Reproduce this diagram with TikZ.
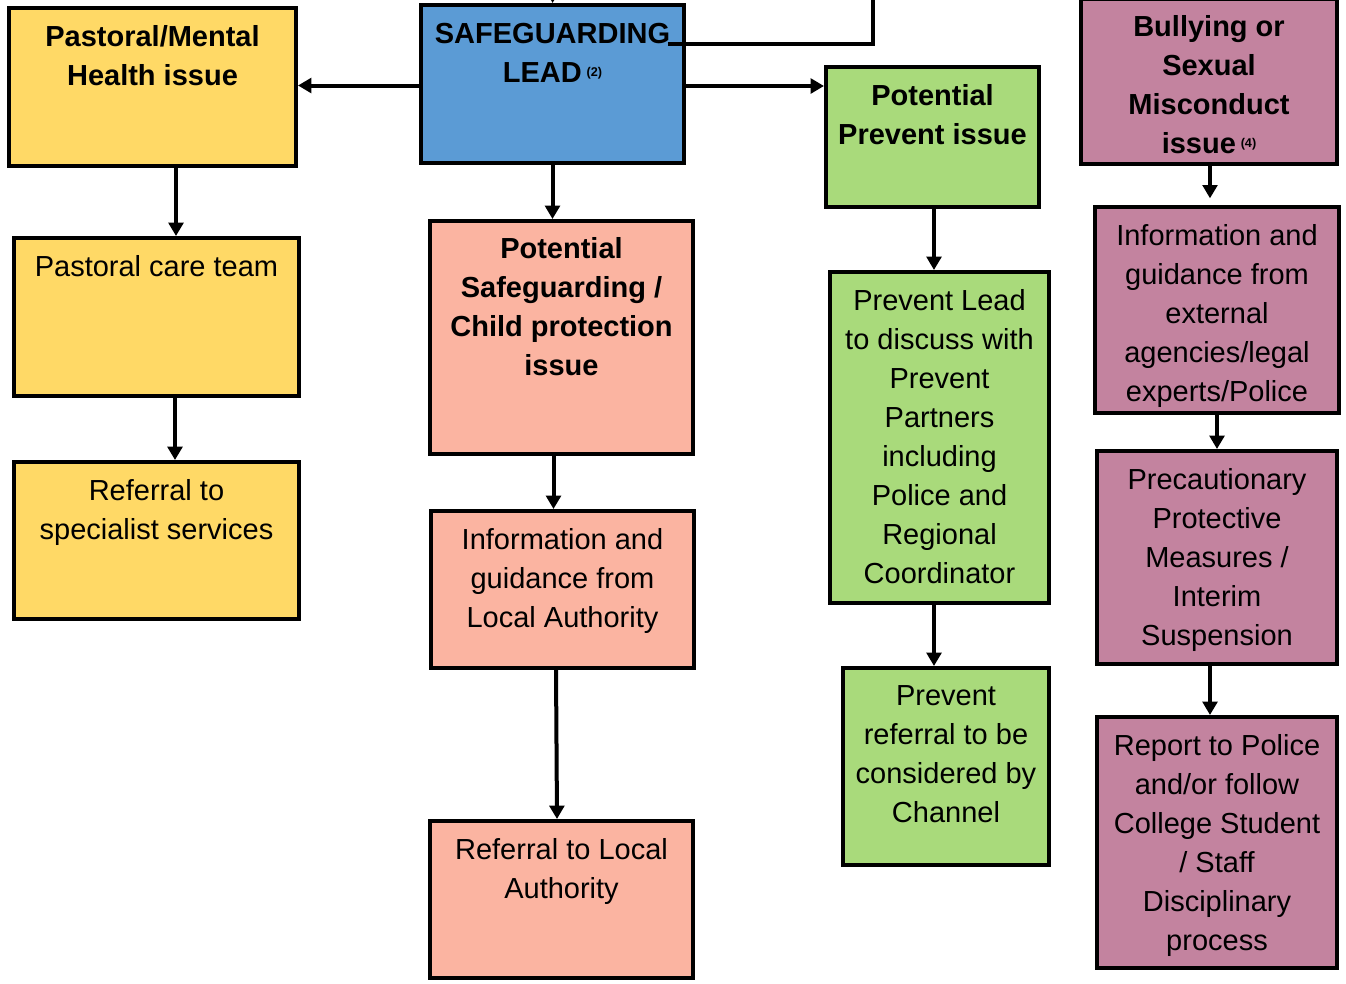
\documentclass[tikz,border=0pt]{standalone}
\usepackage{fontspec}
\setmainfont{Liberation Sans}
\usetikzlibrary{arrows.meta,calc,fit}
\definecolor{cyel}{HTML}{FFD966}
\definecolor{cblu}{HTML}{5B9BD5}
\definecolor{cgrn}{HTML}{A9DA7B}
\definecolor{csal}{HTML}{FBB4A1}
\definecolor{cpnk}{HTML}{C3839F}
\newcommand{\smallnum}[1]{\,\raisebox{4.5pt}{\fontsize{9.5pt}{10pt}\selectfont #1}}
\begin{document}
\begin{tikzpicture}[x=0.75pt,y=-0.75pt,
 box/.style={draw=black,line width=3pt,inner sep=0pt,fill=#1},
 txt/.style={anchor=north,align=center,inner sep=0pt,font=\fontsize{21.75pt}{29.25pt}\selectfont},
 btxt/.style={anchor=north,align=center,inner sep=0pt,font=\fontsize{21.75pt}{29.25pt}\selectfont\bfseries},
 arr/.style={line width=3pt,-{Triangle[length=10pt,width=11pt]}},
 ln/.style={line width=3pt}]
\useasboundingbox (0,0) rectangle (1346,983);
% boxes
\node[box=cyel, fit={(9,8)(296,166)}] (pm) {};
\node[box=cblu, fit={(421,5)(684,163)}] (sl) {};
\node[box=cgrn, fit={(826,67)(1039,207)}] (pv) {};
\node[box=cpnk, fit={(1081,-1)(1337,164)}] (bu) {};
\node[box=cyel, fit={(14,238)(299,396)}] (pc) {};
\node[box=cyel, fit={(14,462)(299,619)}] (rs) {};
\node[box=csal, fit={(430,221)(693,454)}] (psg) {};
\node[box=csal, fit={(431,511)(694,668)}] (ila) {};
\node[box=csal, fit={(430,821)(693,978)}] (rla) {};
\node[box=cgrn, fit={(830,272)(1049,603)}] (pl) {};
\node[box=cgrn, fit={(843,668)(1049,865)}] (pr) {};
\node[box=cpnk, fit={(1095,207)(1339,413)}] (ie) {};
\node[box=cpnk, fit={(1097,451)(1337,664)}] (pp) {};
\node[box=cpnk, fit={(1097,717)(1337,968)}] (rp) {};
% texts
\node[btxt] (pmt) at ([yshift=-14.25pt]pm.north) {Pastoral/Mental\\Health issue};
\node[btxt] (slt) at ([yshift=-15pt]sl.north) {SAFEGUARDING\\LEAD\smallnum{(2)}};
\node[btxt] (pvt) at ([yshift=-14.25pt]pv.north) {Potential\\Prevent issue};
\node[btxt] (but) at ([yshift=-13.5pt]bu.north) {Bullying or\\Sexual\\Misconduct\\issue\smallnum{(4)}};
\node[txt] (pct) at ([yshift=-14.25pt]pc.north) {Pastoral care team};
\node[txt] (rst) at ([yshift=-14.25pt]rs.north) {Referral to\\specialist services};
\node[btxt] (psgt) at ([yshift=-13.5pt]psg.north) {Potential\\Safeguarding /\\Child protection\\issue};
\node[txt] (ilat) at ([yshift=-14.25pt]ila.north) {Information and\\guidance from\\Local Authority};
\node[txt] (rlat) at ([yshift=-14.25pt]rla.north) {Referral to Local\\Authority};
\node[txt] (plt) at ([yshift=-14.25pt]pl.north) {Prevent Lead\\to discuss with\\Prevent\\Partners\\including\\Police and\\Regional\\Coordinator};
\node[txt] (prt) at ([yshift=-14.25pt]pr.north) {Prevent\\referral to be\\considered by\\Channel};
\node[txt] (iet) at ([yshift=-14.25pt]ie.north) {Information and\\guidance from\\external\\agencies/legal\\experts/Police};
\node[txt] (ppt) at ([yshift=-14.25pt]pp.north) {Precautionary\\Protective\\Measures /\\Interim\\Suspension};
\node[txt] (rpt) at ([yshift=-14.25pt]rp.north) {Report to Police\\and/or follow\\College Student\\/ Staff\\Disciplinary\\process};
% connectors
\coordinate (topin) at (553,-10);
\coordinate (t2) at (873,-10);
\coordinate (t2e) at (668,44);
\draw[arr] (topin) -- (sl.north);
\draw[ln] (t2) |- (t2e);
\coordinate (a0) at ($(sl.west)+(0,1.5)$);
\draw[arr] (a0) -- (a0 -| pm.east);
\coordinate (b0) at ($(sl.east)+(0,2)$);
\draw[arr] (b0) -- (b0 -| pv.west);
\draw[arr] (sl.south) -- (sl.south |- psg.north);
\coordinate (a1) at ($(pm.south)+(23.5,0)$);
\draw[arr] (a1) -- (a1 |- pc.north);
\coordinate (a2) at ($(pc.south)+(18.5,0)$);
\draw[arr] (a2) -- (a2 |- rs.north);
\coordinate (a3) at ($(psg.south)+(-8,0)$);
\draw[arr] (a3) -- (a3 |- ila.north);
\coordinate (a4) at ($(ila.south)+(-6.5,0)$);
\coordinate (a4e) at ($(rla.north)+(-4.5,0)$);
\draw[arr] (a4) -- (a4e);
\coordinate (a5) at ($(pv.south)+(1.5,0)$);
\draw[arr] (a5) -- (a5 |- pl.north);
\coordinate (a6) at ($(pl.south)+(-5.5,0)$);
\draw[arr] (a6) -- (a6 |- pr.north);
\coordinate (a7) at ($(bu.south)+(1,0)$);
\draw[arr, shorten >=5pt] (a7) -- (a7 |- ie.north);
\draw[arr] (ie.south) -- (ie.south |- pp.north);
\coordinate (a9) at ($(pp.south)+(-7,0)$);
\draw[arr] (a9) -- (a9 |- rp.north);
\end{tikzpicture}
\end{document}
